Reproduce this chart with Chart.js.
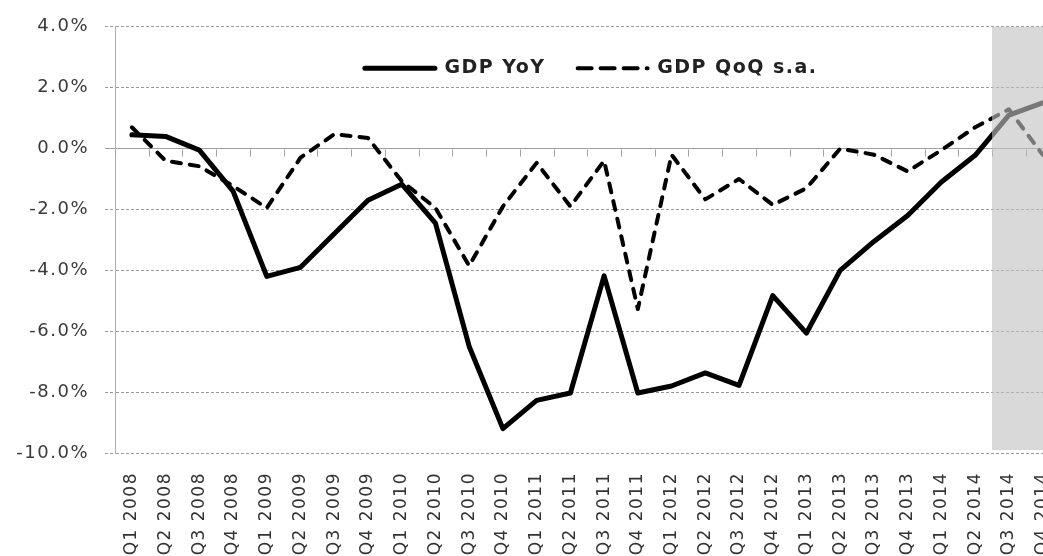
<!DOCTYPE html>
<html><head><meta charset="utf-8">
<script src="https://cdn.jsdelivr.net/npm/chart.js@4.4.0/dist/chart.umd.min.js"></script>
<style>
html,body{margin:0;padding:0;overflow:hidden;background:#fff;width:1043px;height:556px}
#wrap{width:1082px;height:556px}
</style>
</head><body><div id="wrap"><canvas id="c" width="1082" height="556"></canvas></div>
<script>
const categories = [
  'Q1 2008','Q2 2008','Q3 2008','Q4 2008',
  'Q1 2009','Q2 2009','Q3 2009','Q4 2009',
  'Q1 2010','Q2 2010','Q3 2010','Q4 2010',
  'Q1 2011','Q2 2011','Q3 2011','Q4 2011',
  'Q1 2012','Q2 2012','Q3 2012','Q4 2012',
  'Q1 2013','Q2 2013','Q3 2013','Q4 2013',
  'Q1 2014','Q2 2014','Q3 2014','Q4 2014'
];
const gdpYoY = [
  0.45, 0.4, -0.05, -1.4,
  -4.2, -3.9, -2.8, -1.7,
  -1.17, -2.45, -6.5, -9.2,
  -8.27, -8.03, -4.18, -8.03,
  -7.8, -7.37, -7.78, -4.83,
  -6.06, -4.0, -3.05, -2.2,
  -1.1, -0.22, 1.1, 1.5
];
const gdpQoQ = [
  0.7, -0.4, -0.58, -1.23,
  -1.95, -0.3, 0.47, 0.35,
  -1.07, -1.95, -3.85, -1.9,
  -0.47, -1.9, -0.4, -5.27,
  -0.2, -1.67, -1.0, -1.85,
  -1.3, 0.0, -0.2, -0.75,
  -0.05, 0.7, 1.29, -0.2
];
const seriesNames = ['GDP YoY', 'GDP QoQ s.a.'];
const yMin = -10, yMax = 4, yStep = 2;
const shadeFrom = 'Q3 2014';

const setSpacing = chart => { try { chart.ctx.letterSpacing = '1.5px'; } catch (e) {} };

const decor = {
  id: 'decor',
  afterInit(chart) {
    setSpacing(chart);
    if (chart.legend) chart.legend.isHorizontal = () => true;
  },
  beforeUpdate(chart) { setSpacing(chart); },
  beforeDraw(chart) { setSpacing(chart); },
  afterLayout(chart) {
    const lg = chart.legend, a = chart.chartArea;
    if (!lg) return;
    lg.left = a.left + 4;
    lg.right = a.right + 4;
    lg.width = lg.right - lg.left;
    lg.top = a.top;
    lg.bottom = lg.top + lg.height + 10;
  },
  beforeDatasetsDraw(chart) {
    const {ctx, scales: {x, y}} = chart;
    const y0 = Math.round(y.getPixelForValue(0)) + 0.5;
    ctx.save();
    ctx.strokeStyle = '#a0a0a0';
    ctx.lineWidth = 1;
    ctx.beginPath();
    for (let k = 0; k <= categories.length; k++) {
      const px = Math.round(x.getPixelForValue(k - 0.5)) + 0.5;
      ctx.moveTo(px, y0);
      ctx.lineTo(px, y0 + 7);
    }
    ctx.stroke();
    ctx.restore();
  },
  afterDatasetsDraw(chart) {
    const {ctx, chartArea: a, scales: {x}} = chart;
    const i = categories.indexOf(shadeFrom);
    const x0 = Math.round(x.getPixelForValue(i - 0.5));
    ctx.save();
    ctx.fillStyle = 'rgba(193,193,193,0.62)';
    ctx.fillRect(x0, a.top, a.right - x0, a.bottom - a.top - 3);
    ctx.restore();
  }
};

const legendDash = [[], [14, 9]];

new Chart(document.getElementById('c'), {
  type: 'line',
  data: {
    labels: categories,
    datasets: [
      {
        label: seriesNames[0],
        data: gdpYoY,
        borderColor: '#000',
        backgroundColor: '#000',
        borderWidth: 5,
        borderCapStyle: 'round',
        borderJoinStyle: 'round',
        pointRadius: 0,
        tension: 0
      },
      {
        label: seriesNames[1],
        data: gdpQoQ,
        borderColor: '#000',
        backgroundColor: '#000',
        borderWidth: 4,
        borderDash: [9, 9],
        borderCapStyle: 'round',
        borderJoinStyle: 'round',
        pointRadius: 0,
        tension: 0
      }
    ]
  },
  options: {
    responsive: false,
    animation: false,
    devicePixelRatio: 1,
    layout: { padding: { top: 14, left: 0, right: 0, bottom: 1 } },
    plugins: {
      tooltip: { enabled: false },
      legend: {
        position: 'chartArea',
        align: 'center',
        labels: {
          usePointStyle: true,
          pointStyle: 'line',
          pointStyleWidth: 70,
          boxHeight: 20,
          padding: 32,
          color: '#222',
          font: { family: 'DejaVu Sans', size: 19, weight: 'bold' },
          generateLabels(chart) {
            const items = Chart.defaults.plugins.legend.labels.generateLabels(chart);
            items.forEach(it => {
              const ds = chart.data.datasets[it.datasetIndex];
              it.lineDash = legendDash[it.datasetIndex] || [];
              it.lineWidth = ds.borderWidth;
              it.lineCap = 'round';
              it.strokeStyle = ds.borderColor;
              it.fillStyle = ds.borderColor;
            });
            return items;
          }
        }
      }
    },
    scales: {
      x: {
        type: 'category',
        offset: true,
        afterFit: s => { s.height = 102; },
        grid: { display: false, drawTicks: false },
        border: { display: false },
        ticks: {
          minRotation: 90,
          maxRotation: 90,
          autoSkip: false,
          padding: 19,
          color: '#333',
          font: { family: 'DejaVu Sans', size: 17 }
        }
      },
      y: {
        min: yMin,
        max: yMax,
        afterFit: s => { s.width = 115; },
        grid: {
          color: c => c.tick && c.tick.value === 0 ? '#a0a0a0' : '#9a9a9a',
          lineWidth: 1,
          drawTicks: true,
          tickLength: 10,
          tickBorderDash: c => c.tick && c.tick.value === 0 ? [] : [3, 2],
          tickColor: c => c.tick && c.tick.value === 0 ? '#a0a0a0' : '#9a9a9a'
        },
        border: {
          display: true,
          color: '#b0b0b0',
          width: 1,
          dash: c => c.tick && c.tick.value === 0 ? [] : [3, 2]
        },
        ticks: {
          stepSize: yStep,
          padding: 16,
          color: '#3a3a3a',
          font: { family: 'DejaVu Sans', size: 18 },
          callback: v => v.toFixed(1) + '%'
        }
      }
    }
  },
  plugins: [decor]
});
</script>
</body></html>
